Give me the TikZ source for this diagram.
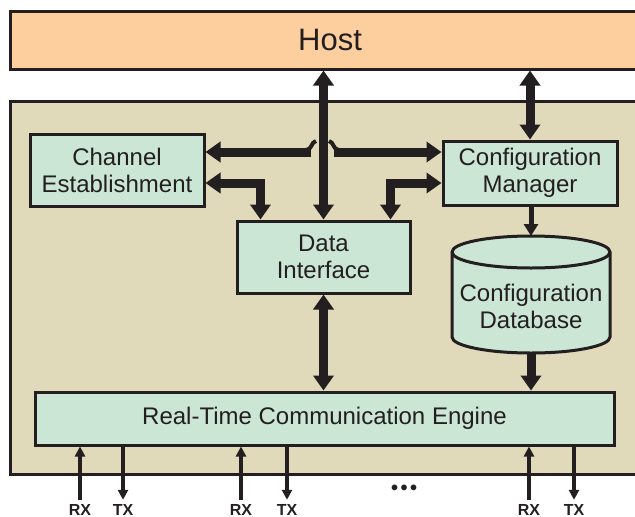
\documentclass[tikz,border=0pt]{standalone}
\usepackage{fontspec}
\setmainfont{Liberation Sans}
\usetikzlibrary{arrows.meta}

\definecolor{hostorange}{HTML}{FDCE9E}
\definecolor{boardtan}{HTML}{E0D9BA}
\definecolor{blockmint}{HTML}{CBE6D4}
\definecolor{inkdark}{HTML}{231F20}

\begin{document}
\begin{tikzpicture}[
    x=1pt, y=-1pt,
    every node/.style={font=\fontsize{24}{27}\selectfont, text=inkdark},
    >={Triangle[width=20pt,length=15pt]},
    block/.style={draw=inkdark, line width=3pt, fill=blockmint, align=center, inner sep=0pt},
    fatarrow/.style={draw=inkdark, line width=9pt},
    thinarrow/.style={draw=inkdark, line width=5pt, >={Triangle[width=14pt,length=12pt]}},
    ioarrow/.style={draw=inkdark, line width=3.5pt, >={Triangle[width=10pt,length=10pt]}},
    iolabel/.style={font=\fontsize{16}{18}\selectfont\bfseries, inner sep=1pt},
    curl/.style={draw=inkdark, line width=4pt},
]

\useasboundingbox (0,0) rectangle (635,517);
\clip (0,0) rectangle (635,517);

% === Host and board ===
\node[draw=inkdark, line width=3pt, fill=hostorange, minimum width=640pt, minimum height=58pt,
      font=\fontsize{31}{36}\selectfont] (host) at (330,40) {Host};
\draw[draw=inkdark, line width=3pt, fill=boardtan] (10,101) rectangle (650,474);

% === Blocks ===
\node[block, minimum width=174pt, minimum height=72pt] (chan) at (117,170) {Channel\\Establishment};
\node[block, minimum width=174pt, minimum height=64pt] (cfgmgr) at (530,173) {Configuration\\Manager};
\node[block, minimum width=173pt, minimum height=72pt] (datif) at (323.5,257) {Data\\Interface};
\node[block, minimum width=579pt, minimum height=53pt] (rtce) at (324.5,418.5) {Real-Time Communication Engine};

% Database cylinder
\draw[draw=inkdark, line width=3pt, fill=blockmint]
    (452,252) -- (452,337) arc[start angle=180, end angle=360, x radius=79pt, y radius=16pt]
    -- (610,252) arc[start angle=0, end angle=180, x radius=79pt, y radius=16pt] -- cycle;
\draw[draw=inkdark, line width=3pt] (452,252) arc[start angle=180, end angle=360, x radius=79pt, y radius=16pt];
\node[align=center, inner sep=0pt] (cfgdb) at (531,306) {Configuration\\Database};
\coordinate (dbtop) at (531,236);
\coordinate (dbbot) at (531,353);

% === Host links ===
\draw[fatarrow, <->] (datif.north |- host.south) -- (datif.north);
\draw[fatarrow, <->] (cfgmgr.north |- host.south) -- (cfgmgr.north);

% === Upper crossing link ===
\coordinate (jl) at (311,152);
\coordinate (jr) at (334,152);
\draw[fatarrow, ->] (jl) -- (chan.east |- jl);
\draw[fatarrow, ->] (jr) -- (cfgmgr.west |- jr);
\draw[curl] (306,150) .. controls (312,150) and (311,142) .. (316,141);
\draw[curl] (339,150) .. controls (333,150) and (334,142) .. (329,141);

% === Lower links into Data Interface ===
\draw[fatarrow, <->] (chan.east |- 0,183) -| ([xshift=25pt]datif.north west);
\draw[fatarrow, <->] (cfgmgr.west |- 0,183) -| ([xshift=-21pt]datif.north east);

% === Down to the engine ===
\draw[thinarrow, ->] (cfgmgr.south -| dbtop) -- (dbtop);
\draw[fatarrow, ->] (dbbot) -- (rtce.north -| dbbot);
\draw[fatarrow, <->] (datif.south) -- (rtce.north -| datif.south);

% === RX / TX ports ===
\foreach \rx/\tx/\n in {80/123/1, 241/287/2, 529/574/3} {
    \node[iolabel] (rx\n) at (\rx,509.5) {RX};
    \node[iolabel] (tx\n) at (\tx,509.5) {TX};
    \draw[ioarrow, ->] ([yshift=3pt]rx\n.north) -- (rx\n.north |- rtce.south);
    \draw[ioarrow, ->] (tx\n.north |- rtce.south) -- ([yshift=3pt]tx\n.north);
}
\node[font=\fontsize{20}{22}\selectfont\bfseries] (dots) at (404,490) {•\hspace{2.5pt}•\hspace{2.5pt}•};

\end{tikzpicture}
\end{document}
